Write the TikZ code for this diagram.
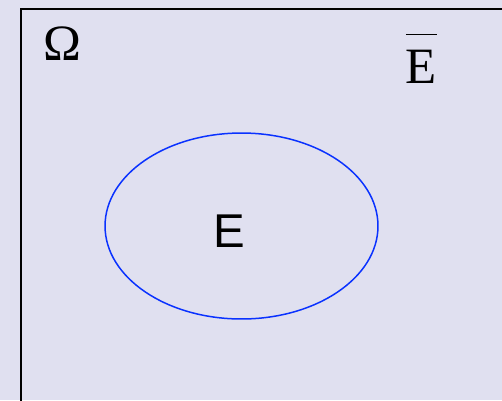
\documentclass[tikz,border=0pt]{standalone}
\usepackage{fontspec}
\setmainfont{Liberation Serif}
\setsansfont{Liberation Sans}
\usepackage{tikz}
\usetikzlibrary{shapes.geometric}
\definecolor{cBG}{HTML}{E0E0F0}
\definecolor{cEV}{HTML}{0A32FF}

\begin{document}
\begin{tikzpicture}[x=0.02cm, y=-0.02cm,
  lbl/.style={inner sep=0pt, anchor=base, font=\fontsize{29}{32}\selectfont},
  evt/.style={draw=cEV, line width=0.85pt, ellipse, inner sep=0pt, minimum width=5.46cm, minimum height=3.72cm}
]
\useasboundingbox (0,0) rectangle (502,400);
\fill[cBG] (0,0) rectangle (502,400);
\draw[line width=1.1pt] (21,412) -- (21,9) -- (515,9);
\node[evt] (event) at (241.5,226) {};
\node[lbl, font=\sffamily\fontsize{27}{30}\selectfont] (e) at (229,247) {E};
\node[lbl] (omega) at (62,60) {Ω};
\node[lbl] (ebar) at (421.5,83) {$\overline{\rule{0pt}{0.92cm}\hbox{E}}$};
\end{tikzpicture}
\end{document}
